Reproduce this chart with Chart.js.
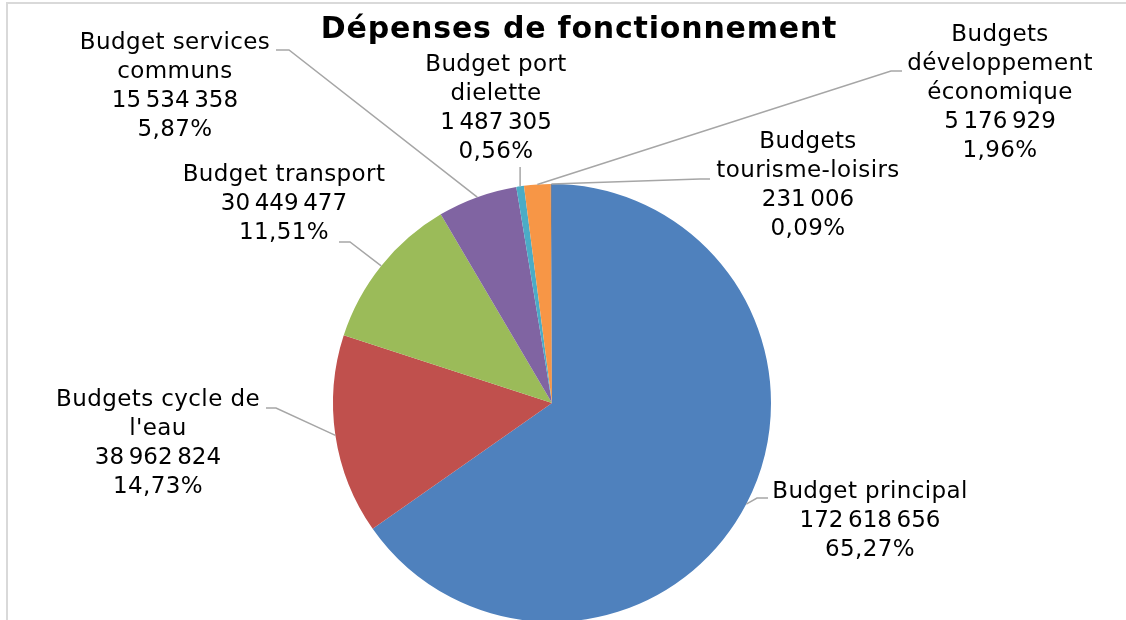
<!DOCTYPE html>
<html><head><meta charset="utf-8">
<script src="https://cdn.jsdelivr.net/npm/chart.js@4.4.1/dist/chart.umd.min.js"></script>
<style>
html,body{margin:0;padding:0;background:#fff;overflow:hidden;width:1126px;height:620px;}
#frame{position:absolute;left:6px;top:2px;width:1200px;height:700px;border:2px solid #D9D9D9;box-sizing:border-box;}
#wrap{position:absolute;left:0;top:0;width:1126px;height:626px;}
</style></head><body>
<div id="frame"></div>
<div id="wrap"><canvas id="c"></canvas></div>
<script>
const chartTitle = 'Dépenses de fonctionnement';
const categories = ['Budget principal', "Budgets cycle de l'eau", 'Budget transport', 'Budget services communs', 'Budget port dielette', 'Budgets développement économique', 'Budgets tourisme-loisirs'];
const values = [172618656, 38962824, 30449477, 15534358, 1487305, 5176929, 231006];
const colors = ['#4F81BD', '#C0504D', '#9BBB59', '#8064A2', '#4BACC6', '#F79646', '#6E7F99'];
const labelLines = [['Budget principal'], ['Budgets cycle de', "l'eau"], ['Budget transport'], ['Budget services', 'communs'], ['Budget port', 'dielette'], ['Budgets', 'développement', 'économique'], ['Budgets', 'tourisme-loisirs']];

// label text placement (centre x, first line centre y) and leader elbow/end points
const labelLayout = [
  {x: 870, y: 492, elbow: [757, 498], end: [768, 498]},
  {x: 158, y: 400, elbow: [276, 408], end: [266, 408]},
  {x: 284, y: 175, elbow: [350, 242], end: [339, 242]},
  {x: 175, y: 43.5, elbow: [289, 50], end: [276, 50]},
  {x: 496, y: 65, vertical: 167},
  {x: 1000, y: 35, elbow: [891, 71], end: [902, 71]},
  {x: 808, y: 142, elbow: [700, 179], end: [710, 179]}
];
const LINE_H = 29;
const LABEL_FONT = '23px "DejaVu Sans", Verdana, sans-serif';
const TITLE_FONT = 'bold 30px "DejaVu Sans", Verdana, sans-serif';

const total = values.reduce((a, b) => a + b, 0);
const fmtNum = v => String(v).replace(/\B(?=(\d{3})+(?!\d))/g, '\u202F');
const fmtPct = v => (v / total * 100).toFixed(2).replace('.', ',') + '%';

const labelPlugin = {
  id: 'excelLabels',
  afterDraw(chart) {
    const ctx = chart.ctx;
    const meta = chart.getDatasetMeta(0);
    ctx.save();
    // title
    ctx.fillStyle = '#000';
    ctx.font = TITLE_FONT;
    ctx.letterSpacing = '0.8px';
    ctx.textAlign = 'center';
    ctx.textBaseline = 'alphabetic';
    ctx.fillText(chartTitle, 579, 38);
    // leaders
    ctx.strokeStyle = '#A6A6A6';
    ctx.lineWidth = 1.5;
    meta.data.forEach((arc, i) => {
      const p = arc.getProps(['x', 'y', 'startAngle', 'endAngle', 'outerRadius'], true);
      const mid = (p.startAngle + p.endAngle) / 2;
      const sx = p.x + Math.cos(mid) * p.outerRadius;
      const sy = p.y + Math.sin(mid) * p.outerRadius;
      const L = labelLayout[i];
      ctx.beginPath();
      ctx.moveTo(sx, sy);
      if (L.vertical !== undefined) {
        ctx.lineTo(sx, L.vertical);
      } else {
        ctx.lineTo(L.elbow[0], L.elbow[1]);
        ctx.lineTo(L.end[0], L.end[1]);
      }
      ctx.stroke();
    });
    // texts
    ctx.font = LABEL_FONT;
    ctx.letterSpacing = '0.4px';
    ctx.fillStyle = '#000';
    ctx.textAlign = 'center';
    ctx.textBaseline = 'middle';
    values.forEach((v, i) => {
      const L = labelLayout[i];
      const lines = labelLines[i].concat([fmtNum(v), fmtPct(v)]);
      lines.forEach((t, k) => ctx.fillText(t, L.x, L.y + k * LINE_H));
    });
    ctx.restore();
  }
};

new Chart(document.getElementById('c'), {
  type: 'pie',
  data: {
    labels: categories,
    datasets: [{data: values, backgroundColor: colors, borderWidth: 0, hoverOffset: 0}]
  },
  options: {
    responsive: true,
    maintainAspectRatio: false,
    animation: false,
    layout: {padding: {left: 333, right: 355, top: 184, bottom: 4}},
    plugins: {legend: {display: false}, tooltip: {enabled: false}, title: {display: false}}
  },
  plugins: [labelPlugin]
});
</script>
</body></html>
